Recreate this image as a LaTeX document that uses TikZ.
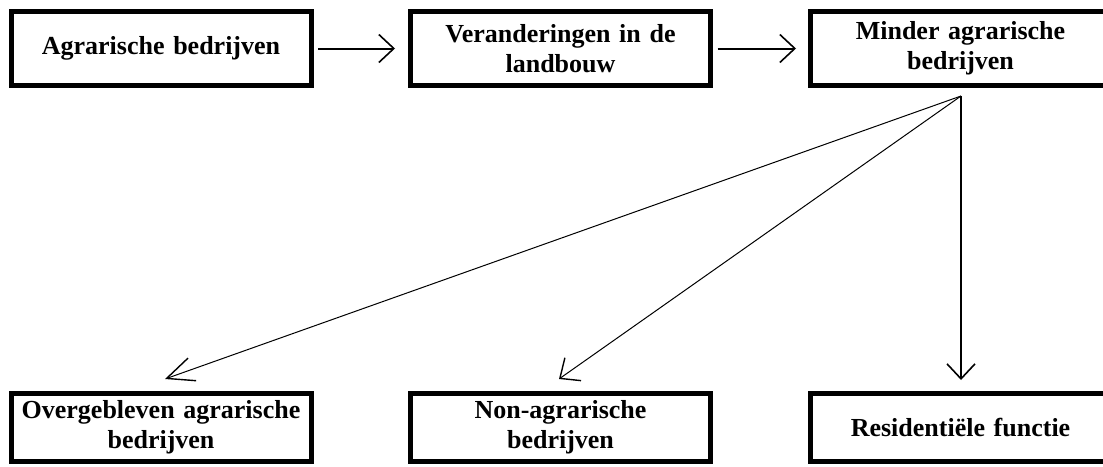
\documentclass[tikz,border=0pt]{standalone}
\usepackage{fontspec}
\setmainfont{Liberation Serif}
\usetikzlibrary{arrows.meta}
\tikzset{
  box/.style={draw=black, line width=5pt, fill=white, minimum width=300pt,
    text width=296pt, align=center, inner sep=0pt,
    font=\fontsize{26}{30}\selectfont\bfseries},
  tophead/.style={-{Straight Barb[length=15pt,width=28pt,line width=1.6pt]}, line width=2pt},
  fanhead/.style={line width=1pt},
  downhead/.style={-{Straight Barb[length=15pt,width=28pt,line width=1.6pt]}, line width=2.2pt},
}
\begin{document}
\begin{tikzpicture}[x=1pt,y=-1pt]
\useasboundingbox (0,0) rectangle (1103,466);
\clip (0,0) rectangle (1103,466);
\fill[white] (0,0) rectangle (1103,466);
% top row
\node[box, minimum height=74pt] (b1) at (161,48.5) {Agrarische bedrijven\hspace*{14pt}};
\node[box, minimum height=74pt] (b2) at (560.5,48.5) {Veranderingen in de\\landbouw};
\node[box, minimum height=74pt] (b3) at (960.5,48.5) {Minder agrarische\\bedrijven};
% bottom row
\node[box, minimum height=68pt] (b4) at (161,427.5) {Overgebleven agrarische\\bedrijven};
\node[box, minimum height=68pt] (b5) at (560.5,427.5) {Non-agrarische\\bedrijven};
\node[box, minimum height=68pt] (b6) at (960.5,427.5) {Residentiële functie};
% connector points
\coordinate (o) at (961,96);
\coordinate (t4) at (165,379);
\coordinate (t5) at (559,379);
% arrows
\draw[tophead, shorten <=4.5pt, shorten >=13pt] (b1.east) -- (b2.west);
\draw[tophead, shorten <=4.5pt, shorten >=12pt] (b2.east) -- (b3.west);
\draw[downhead, shorten >=11pt] (o) -- (o |- b6.north);
\draw[fanhead, -{Straight Barb[length=27pt,width=24pt,line width=1.4pt]}] (o) -- (t4);
\draw[fanhead, -{Straight Barb[length=16pt,width=28pt,line width=1.4pt]}] (o) -- (t5);
\end{tikzpicture}
\end{document}
